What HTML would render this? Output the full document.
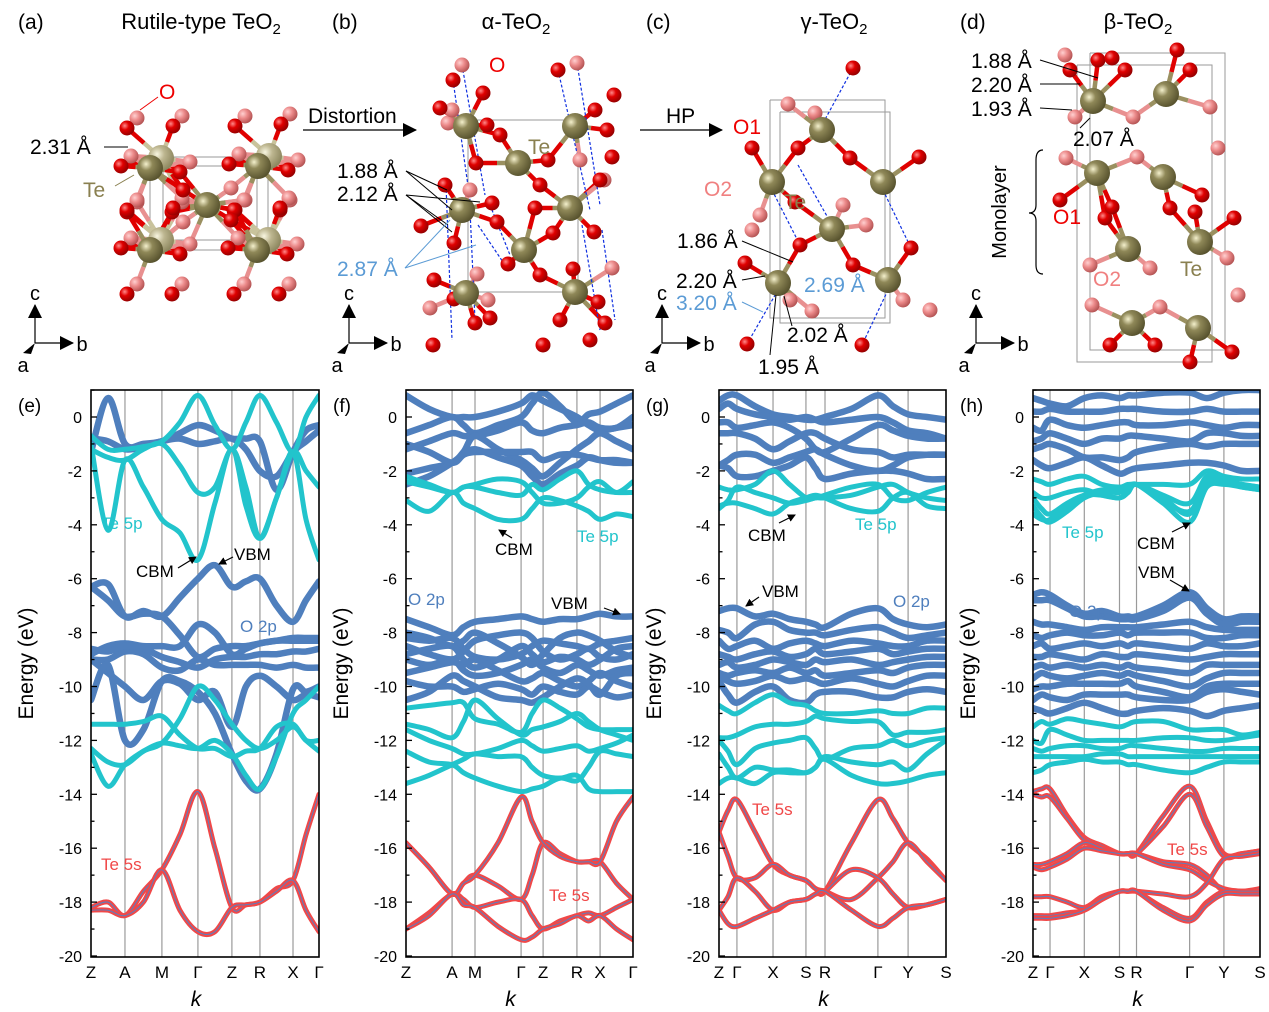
<!DOCTYPE html>
<html><head><meta charset="utf-8"><style>
html,body{margin:0;padding:0;background:#fff}
svg{display:block;font-family:"Liberation Sans",sans-serif}
</style></head><body>
<svg id="fig" width="1269" height="1012" viewBox="0 0 1269 1012" xmlns="http://www.w3.org/2000/svg">
<defs>
<radialGradient id="gTe" cx="0.35" cy="0.35" r="0.7"><stop offset="0" stop-color="#f4f0cc"/><stop offset="0.35" stop-color="#8f8858"/><stop offset="1" stop-color="#55502c"/></radialGradient>
<radialGradient id="gTeB" cx="0.35" cy="0.35" r="0.7"><stop offset="0" stop-color="#f8f6e0"/><stop offset="0.4" stop-color="#bdb690"/><stop offset="1" stop-color="#8a845c"/></radialGradient>
<radialGradient id="gO" cx="0.35" cy="0.35" r="0.7"><stop offset="0" stop-color="#ff8a8a"/><stop offset="0.4" stop-color="#e00000"/><stop offset="1" stop-color="#900000"/></radialGradient>
<radialGradient id="gP" cx="0.35" cy="0.35" r="0.7"><stop offset="0" stop-color="#ffd0d0"/><stop offset="0.45" stop-color="#ec8a8a"/><stop offset="1" stop-color="#b05050"/></radialGradient>
<marker id="ah" markerWidth="8" markerHeight="8" refX="7" refY="4" orient="auto" markerUnits="userSpaceOnUse"><path d="M0,0 L8,4 L0,8 z" fill="#000"/></marker>
<marker id="ahs" markerWidth="14" markerHeight="14" refX="13" refY="7" orient="auto" markerUnits="userSpaceOnUse"><path d="M0,0 L14,7 L0,14 z" fill="#000"/></marker>
</defs>
<g id="top"></g>
<g id="bands"></g>
</svg>
<script>
// ---------------- Band structure data ----------------
const eKLabels=["Z","A","M","Γ","Z","R","X","Γ"];
const eKDist=[0,0.149,0.311,0.469,0.618,0.741,0.886,1];
const eRed=[
[-18.2,-18.0,-18.5,-17.6,-16.8,-15.5,-13.9,-16.0,-18.2,-18.1,-18.0,-17.5,-17.2,-15.5,-14.0],
[-18.3,-18.3,-18.5,-18.0,-16.8,-18.3,-19.1,-19.1,-18.2,-18.1,-18.0,-17.6,-17.2,-18.3,-19.1]];
const eCyan=[
[-1.0,-4.2,-1.6,-2.6,-3.8,-4.3,-5.3,-3.2,-1.2,-3.3,-4.5,-3.0,-1.3,-3.8,-5.3],
[-0.7,-1.2,-1.2,-1.1,-0.9,-0.2,0.8,-0.3,-1.2,-0.2,0.8,-0.2,-1.3,0.0,0.8],
[-1.2,-1.5,-1.6,-1.2,-1.0,-1.8,-2.8,-2.6,-1.2,-2.6,-4.5,-3.0,-1.3,-2.0,-2.6],
[-11.4,-11.4,-11.4,-11.3,-11.1,-11.8,-12.3,-12.3,-12.6,-12.4,-12.3,-11.5,-11.4,-12.0,-12.0],
[-12.3,-12.8,-12.9,-12.4,-12.1,-12.2,-12.3,-12.0,-12.5,-13.3,-13.8,-12.6,-11.0,-10.5,-10.0],
[-12.5,-13.7,-12.9,-12.4,-12.1,-11.2,-10.0,-10.5,-11.4,-12.0,-12.3,-12.0,-11.5,-12.0,-12.4]];
const eBlue=[
[-1.3,0.7,-1.0,-1.0,-0.9,-0.6,-0.3,-0.5,-0.8,-0.8,-0.9,-2.7,-1.3,-0.5,-0.3],
[-0.8,-0.9,-1.2,-1.1,-0.9,-0.8,-1.0,-0.9,-0.8,-1.2,-2.0,-2.2,-1.3,-0.9,-0.5],
[-6.3,-6.2,-7.4,-7.2,-7.4,-6.7,-6.0,-5.5,-6.3,-6.1,-6.0,-7.0,-7.6,-6.8,-6.1],
[-6.3,-6.8,-7.4,-7.3,-7.4,-8.1,-8.9,-8.6,-8.5,-8.5,-8.4,-8.3,-8.3,-8.3,-8.3],
[-8.8,-8.5,-8.4,-8.5,-8.5,-8.5,-7.7,-8.0,-8.8,-8.6,-8.4,-8.3,-8.2,-8.2,-8.2],
[-9.0,-9.0,-8.7,-8.8,-9.3,-9.4,-9.0,-9.2,-9.2,-9.2,-9.2,-9.3,-9.2,-9.3,-9.3],
[-8.6,-8.7,-8.5,-8.6,-8.9,-9.1,-9.3,-9.0,-8.9,-8.9,-8.8,-8.8,-8.7,-8.7,-8.6],
[-9.0,-9.5,-10.0,-10.5,-9.8,-9.9,-10.5,-10.2,-11.5,-10.0,-9.6,-10.0,-10.5,-10.3,-10.4],
[-10.5,-9.2,-12.0,-11.6,-9.8,-9.8,-10.2,-11.0,-12.5,-13.5,-13.8,-12.5,-10.1,-10.2,-10.0]];

const fKLabels=["Z","A","M","Γ","Z","R","X","Γ"];
const fKDist=[0,0.203,0.304,0.507,0.604,0.753,0.855,1];
const fRed=[
[-15.8,-16.7,-17.7,-17.3,-17.0,-17.4,-17.9,-17.0,-15.8,-16.2,-16.5,-16.5,-16.5,-17.3,-17.9],
[-19.0,-18.4,-17.7,-17.9,-18.2,-18.0,-17.9,-18.5,-19.0,-18.7,-18.5,-18.4,-18.5,-18.2,-17.9],
[-15.8,-16.7,-17.7,-17.3,-17.0,-15.8,-14.1,-15.0,-15.8,-16.3,-16.5,-16.5,-16.5,-15.0,-14.1],
[-19.0,-18.5,-17.7,-18.1,-18.2,-18.9,-19.4,-19.3,-19.0,-18.8,-18.5,-18.7,-18.5,-19.0,-19.4]];
const fCyan=[
[-13.6,-13.3,-12.9,-12.7,-12.5,-12.6,-12.6,-13.0,-13.3,-13.4,-13.3,-13.8,-13.9,-13.9,-13.9],
[-12.4,-12.8,-12.9,-13.2,-13.4,-13.7,-13.9,-13.8,-13.7,-13.4,-13.5,-13.0,-12.4,-12.5,-12.6],
[-11.4,-11.6,-11.9,-11.3,-10.5,-11.2,-11.8,-11.6,-11.5,-11.3,-11.0,-11.3,-11.6,-11.8,-12.0],
[-11.6,-12.0,-12.3,-12.5,-12.5,-12.3,-12.0,-12.2,-12.4,-12.3,-12.2,-12.4,-12.3,-12.1,-11.8],
[-10.8,-10.7,-10.6,-10.6,-11.2,-11.4,-11.7,-11.0,-10.5,-10.8,-11.2,-11.5,-11.6,-11.6,-11.6],
[-2.2,-2.5,-2.8,-2.6,-2.6,-2.8,-2.9,-2.5,-2.7,-2.3,-2.0,-2.5,-2.7,-2.8,-2.8],
[-3.1,-3.5,-2.8,-3.2,-3.4,-3.8,-3.8,-3.4,-3.0,-3.1,-3.3,-3.5,-3.8,-3.6,-3.7],
[-2.4,-2.6,-2.8,-2.6,-2.5,-2.3,-2.4,-2.8,-3.2,-3.2,-3.0,-2.6,-2.4,-2.8,-2.4]];
const fBlue=[
[-7.5,-7.8,-8.1,-7.8,-7.6,-7.5,-7.4,-7.5,-7.6,-7.5,-7.5,-7.4,-7.3,-7.4,-7.4],
[-8.2,-8.3,-8.2,-8.6,-8.9,-9.0,-8.8,-8.5,-8.3,-8.4,-8.5,-8.6,-8.4,-8.3,-8.2],
[-8.5,-8.8,-9.0,-8.7,-8.3,-8.1,-8.0,-8.2,-8.7,-9.0,-8.8,-8.6,-8.9,-9.0,-8.8],
[-9.0,-9.2,-9.0,-9.4,-9.6,-9.5,-9.2,-9.0,-9.3,-9.5,-9.2,-9.4,-9.6,-9.4,-9.3],
[-9.5,-9.3,-9.1,-9.2,-9.0,-9.4,-9.8,-9.7,-9.5,-9.8,-10.0,-9.8,-9.5,-9.8,-10.0],
[-9.8,-10.0,-10.0,-10.2,-10.1,-9.9,-10.1,-10.3,-10.0,-10.2,-10.3,-10.0,-10.2,-10.4,-10.3],
[-10.5,-10.2,-9.6,-9.8,-10.0,-10.4,-10.5,-10.6,-10.4,-10.0,-9.7,-9.9,-10.3,-9.6,-9.5],
[-8.0,-8.2,-8.5,-8.3,-8.0,-8.4,-8.9,-9.2,-8.8,-8.2,-8.0,-8.1,-8.3,-8.7,-8.9],
[-8.8,-8.6,-8.5,-9.0,-9.3,-9.0,-8.5,-8.8,-9.1,-8.9,-9.0,-9.2,-9.0,-8.6,-8.5],
[-0.6,-0.3,0.0,-0.3,-0.6,-0.3,0.0,0.5,0.9,0.4,-0.2,0.1,0.2,0.5,0.8],
[0.8,0.3,0.0,0.0,0.0,0.2,0.5,0.8,0.6,0.3,0.0,-0.3,-0.5,-0.4,-0.3],
[-1.2,-0.9,-0.6,-0.7,-0.7,-0.5,-0.2,-0.5,-0.6,-0.4,-0.3,-0.2,-0.4,-0.4,0.0],
[-2.1,-1.9,-1.7,-1.3,-0.7,-1.2,-1.6,-1.9,-2.2,-1.7,-1.2,-0.9,-0.6,-0.9,-1.2],
[-2.5,-2.2,-1.7,-1.4,-1.3,-1.3,-1.3,-1.3,-1.6,-1.4,-1.4,-1.5,-1.6,-1.6,-1.7],
[-1.0,-1.3,-1.7,-1.4,-1.2,-1.5,-1.8,-2.2,-2.5,-2.1,-1.8,-1.5,-1.6,-1.7,-1.7]];

const gKLabels=["Z","Γ","X","S","R","Γ","Y","S"];
const gKDist=[0,0.079,0.238,0.383,0.467,0.700,0.833,1];
const gRed=[
[-15.4,-14.6,-14.2,-15.4,-16.6,-17.0,-17.2,-17.5,-17.6,-15.8,-14.2,-14.9,-15.8,-16.4,-17.2],
[-15.4,-16.3,-17.1,-17.1,-16.6,-17.0,-17.2,-17.5,-17.6,-17.9,-17.1,-16.5,-15.8,-16.5,-17.2],
[-18.3,-17.8,-17.1,-17.6,-18.3,-18.0,-17.9,-17.7,-17.6,-16.8,-17.1,-17.7,-18.2,-18.1,-17.9],
[-18.3,-18.8,-18.9,-18.6,-18.3,-18.0,-17.9,-17.7,-17.6,-18.3,-18.9,-18.6,-18.2,-18.1,-17.9]];
const gCyan=[
[-13.6,-13.4,-13.4,-13.6,-13.2,-13.2,-13.2,-13.0,-12.7,-13.3,-13.6,-13.6,-13.5,-13.3,-13.2],
[-12.5,-13.0,-13.4,-13.0,-13.1,-13.1,-13.2,-13.0,-12.6,-12.8,-12.9,-12.8,-13.1,-12.5,-12.0],
[-12.0,-12.4,-12.9,-12.3,-12.1,-12.0,-11.9,-12.3,-12.7,-12.3,-12.2,-12.0,-12.2,-12.0,-11.9],
[-11.9,-11.9,-11.8,-11.5,-11.4,-11.4,-11.3,-11.1,-11.2,-11.3,-11.3,-11.8,-11.7,-11.7,-11.6],
[-10.7,-10.9,-11.0,-10.6,-10.3,-10.6,-10.7,-10.9,-11.0,-11.0,-10.9,-11.0,-11.0,-10.8,-10.8],
[-3.4,-3.1,-2.6,-2.8,-3.0,-3.2,-3.1,-3.0,-3.0,-2.9,-2.6,-2.5,-2.8,-3.0,-3.1],
[-3.3,-3.2,-3.2,-3.4,-3.6,-3.2,-3.0,-2.9,-3.0,-3.4,-3.5,-3.0,-2.8,-3.3,-3.4],
[-2.6,-2.7,-2.7,-2.5,-2.0,-2.5,-3.0,-3.0,-2.9,-2.6,-2.5,-3.0,-3.1,-2.8,-2.6]];
const gBlue=[
[-9.8,-10.3,-10.6,-10.2,-10.0,-10.5,-10.6,-10.3,-10.2,-10.2,-10.4,-10.4,-10.2,-10.1,-10.2],
[-7.2,-7.1,-7.1,-7.4,-7.3,-7.5,-7.6,-7.7,-7.8,-7.3,-7.1,-7.5,-7.7,-7.8,-7.7],
[-7.9,-8.0,-8.2,-7.7,-7.6,-7.9,-8.0,-8.0,-8.1,-7.9,-7.8,-8.0,-8.2,-8.1,-8.0],
[-8.3,-8.6,-8.5,-8.3,-8.6,-8.4,-8.3,-8.4,-8.5,-8.3,-8.4,-8.5,-8.5,-8.3,-8.3],
[-8.8,-8.9,-9.0,-8.8,-8.7,-8.9,-8.8,-8.6,-8.8,-8.7,-8.6,-8.8,-8.7,-8.6,-8.6],
[-9.2,-9.1,-9.3,-9.2,-9.0,-9.1,-9.2,-9.0,-9.1,-9.0,-9.2,-9.1,-9.0,-8.9,-8.9],
[-9.5,-9.6,-9.5,-9.4,-9.5,-9.3,-9.5,-9.4,-9.6,-9.5,-9.4,-9.5,-9.3,-9.2,-9.2],
[-9.6,-9.8,-9.9,-9.8,-9.6,-9.8,-9.7,-9.8,-9.9,-9.7,-9.9,-10.0,-9.8,-9.6,-9.6],
[0.6,0.8,0.8,0.4,0.1,0.0,-0.1,-0.1,0.0,0.3,0.8,0.4,0.1,0.0,-0.1],
[0.3,0.5,0.3,0.1,0.0,-0.1,0.0,-0.1,-0.2,-0.1,0.0,-0.2,-0.5,-0.6,-0.8],
[-0.2,-0.2,-0.4,-0.3,-0.2,-0.4,-0.8,-1.2,-1.3,-0.8,-0.3,-0.5,-0.7,-0.8,-0.8],
[-0.6,-0.6,-0.6,-0.8,-1.2,-0.9,-0.6,-0.6,-0.8,-1.2,-1.3,-1.5,-1.4,-1.4,-1.4],
[-1.8,-1.6,-1.4,-1.4,-1.7,-1.5,-1.3,-1.2,-1.4,-1.8,-2.0,-1.8,-1.5,-1.4,-1.4],
[-1.8,-1.9,-2.2,-2.2,-2.0,-1.8,-1.5,-1.9,-2.3,-2.1,-2.0,-2.0,-2.1,-2.3,-2.3]];

const hKLabels=["Z","Γ","X","S","R","Γ","Y","S"];
const hKDist=[0,0.075,0.226,0.381,0.456,0.690,0.841,1];
const hRed=[
[-13.9,-13.8,-13.8,-14.8,-15.6,-15.9,-16.2,-16.2,-16.2,-14.8,-13.7,-15.0,-16.2,-16.2,-16.1],
[-14.0,-14.1,-14.1,-14.9,-15.7,-16.0,-16.2,-16.2,-16.2,-15.2,-14.0,-15.2,-16.3,-16.2,-16.1],
[-16.6,-16.6,-16.5,-16.2,-15.8,-16.0,-16.2,-16.2,-16.2,-16.5,-16.6,-17.0,-17.6,-17.6,-17.5],
[-16.7,-16.8,-16.7,-16.4,-16.0,-16.1,-16.2,-16.2,-16.2,-16.6,-16.8,-17.2,-17.5,-17.6,-17.6],
[-17.8,-17.8,-17.8,-18.0,-18.2,-17.8,-17.6,-17.6,-17.6,-17.7,-17.8,-17.3,-16.4,-16.3,-16.2],
[-18.5,-18.5,-18.5,-18.4,-18.3,-17.9,-17.6,-17.6,-17.6,-18.2,-18.6,-18.0,-17.6,-17.6,-17.6],
[-18.6,-18.6,-18.6,-18.5,-18.3,-17.9,-17.6,-17.6,-17.6,-18.3,-18.7,-18.1,-17.7,-17.7,-17.7]];
const hCyan=[
[-13.2,-13.1,-12.9,-12.8,-12.7,-12.8,-12.8,-12.9,-12.9,-13.1,-13.2,-13.0,-12.8,-12.8,-12.8],
[-12.6,-12.6,-12.6,-12.6,-12.6,-12.5,-12.5,-12.6,-12.6,-12.6,-12.6,-12.6,-12.6,-12.6,-12.6],
[-12.3,-12.4,-12.3,-12.2,-12.2,-12.3,-12.3,-12.2,-12.2,-12.3,-12.4,-12.4,-12.3,-12.3,-12.3],
[-12.0,-12.1,-11.6,-11.8,-12.0,-12.0,-12.0,-12.0,-12.0,-11.9,-11.9,-12.0,-12.0,-11.9,-11.8],
[-11.5,-11.3,-11.4,-11.2,-11.3,-11.4,-11.5,-11.4,-11.3,-11.3,-11.6,-11.6,-11.6,-11.8,-11.7],
[-2.3,-2.4,-2.5,-2.3,-2.2,-2.5,-2.6,-2.5,-2.5,-2.5,-2.5,-2.0,-2.2,-2.3,-2.3],
[-2.8,-3.0,-3.0,-2.8,-2.7,-2.9,-3.0,-2.8,-2.5,-2.9,-3.2,-2.2,-2.3,-2.5,-2.6],
[-3.0,-3.4,-3.6,-3.2,-2.9,-2.9,-3.0,-2.8,-2.5,-3.1,-3.5,-2.4,-2.4,-2.6,-2.7],
[-3.3,-3.7,-3.9,-3.5,-3.0,-2.8,-2.8,-2.7,-2.5,-3.2,-3.9,-2.6,-2.5,-2.6,-2.7],
[-3.6,-3.8,-3.8,-3.3,-2.9,-2.7,-2.7,-2.6,-2.5,-3.0,-3.6,-2.3,-2.4,-2.5,-2.6]];
const hBlue=[
[-10.8,-10.9,-11.0,-10.8,-10.6,-10.8,-11.0,-11.0,-10.9,-10.8,-10.9,-11.1,-10.9,-10.8,-10.7],
[-6.6,-6.5,-6.6,-7.0,-7.3,-7.2,-7.4,-7.4,-7.4,-7.0,-6.5,-7.1,-7.5,-7.4,-7.4],
[-6.8,-6.8,-6.8,-7.1,-7.4,-7.4,-7.5,-7.5,-7.5,-7.2,-6.7,-7.3,-7.7,-7.6,-7.6],
[-7.6,-7.7,-7.7,-7.8,-7.9,-7.8,-7.8,-7.8,-7.8,-7.7,-7.6,-7.8,-7.9,-7.9,-7.9],
[-8.1,-8.2,-8.1,-8.0,-8.1,-8.1,-8.0,-8.1,-8.0,-8.0,-8.0,-8.2,-8.2,-8.1,-8.1],
[-8.5,-8.4,-8.6,-8.5,-8.4,-8.5,-8.4,-8.5,-8.4,-8.5,-8.6,-8.4,-8.5,-8.5,-8.4],
[-8.9,-8.9,-8.8,-8.9,-9.0,-8.8,-8.9,-8.9,-8.8,-8.9,-9.0,-8.9,-8.8,-8.8,-8.8],
[-9.3,-9.2,-9.3,-9.2,-9.3,-9.2,-9.3,-9.2,-9.3,-9.4,-9.5,-9.2,-9.2,-9.2,-9.2],
[-9.7,-9.5,-9.6,-9.7,-9.6,-9.5,-9.6,-9.5,-9.6,-9.8,-10.0,-9.7,-9.5,-9.5,-9.5],
[-10.1,-10.0,-10.0,-9.9,-9.9,-9.9,-9.9,-9.8,-10.0,-10.2,-10.4,-10.0,-9.9,-9.9,-9.9],
[-10.5,-10.3,-10.4,-10.5,-10.3,-10.3,-10.3,-10.3,-10.4,-10.5,-10.5,-10.2,-10.1,-10.2,-10.3],
[0.7,0.6,0.5,0.4,0.7,0.8,0.7,0.8,0.8,0.9,0.9,0.7,0.9,1.0,1.0],
[0.2,0.2,0.3,0.2,0.2,0.2,0.3,0.3,0.3,0.2,0.2,0.3,0.2,0.2,0.2],
[-0.4,-0.5,-0.1,-0.3,-0.4,-0.3,-0.2,-0.2,-0.3,-0.3,-0.2,-0.3,-0.4,-0.3,-0.3],
[-0.9,-0.8,-0.6,-0.8,-1.0,-0.8,-0.8,-0.7,-0.7,-0.8,-0.9,-0.6,-0.6,-0.7,-0.7],
[-1.2,-1.1,-1.0,-1.2,-1.5,-1.5,-1.6,-1.5,-1.3,-1.1,-1.0,-1.1,-1.0,-1.0,-1.0],
[-1.6,-1.8,-1.9,-1.7,-1.5,-1.8,-2.1,-2.0,-1.9,-1.8,-1.7,-1.7,-1.8,-2.0,-2.0]];
const yTicks=[0,-2,-4,-6,-8,-10,-12,-14,-16,-18,-20];

const NS="http://www.w3.org/2000/svg";
function mk(tag,attrs,parent){const e=document.createElementNS(NS,tag);for(const k in attrs)e.setAttribute(k,attrs[k]);if(parent)parent.appendChild(e);return e;}
function txt(parent,x,y,s,size,fill,anchor,name,extra){const t=mk('text',Object.assign({x:x,y:y,'font-size':size,fill:fill||'#000','text-anchor':anchor||'start'},extra||{}),parent);t.textContent=s;


return t;}
function smooth(p){let d='M'+p[0][0].toFixed(1)+','+p[0][1].toFixed(1);for(let i=0;i<p.length-1;i++){const p0=p[i-1]||p[i],p1=p[i],p2=p[i+1],p3=p[i+2]||p2;const c1=[p1[0]+(p2[0]-p0[0])/6,p1[1]+(p2[1]-p0[1])/6],c2=[p2[0]-(p3[0]-p1[0])/6,p2[1]-(p3[1]-p1[1])/6];d+='C'+c1[0].toFixed(1)+','+c1[1].toFixed(1)+' '+c2[0].toFixed(1)+','+c2[1].toFixed(1)+' '+p2[0].toFixed(1)+','+p2[1].toFixed(1);}return d;}

const BT=390,BB=957;
function yScale(E){return 417-E*26.95;}
function panel(id,left,w,letter,kLabels,kDist,red,cyan,blue){
  const root=document.getElementById('bands');
  const g=mk('g',{},root);
  
  
  const xS=k=>left+k*w;
  const cp=mk('clipPath',{id:'clip'+id},g);mk('rect',{x:left,y:BT,width:w,height:BB-BT},cp);
  kDist.forEach((k,i)=>{if(i>0&&i<kDist.length-1){const l=mk('line',{x1:xS(k),x2:xS(k),y1:BT,y2:BB,stroke:'#9a9a9a','stroke-width':1.2},g);
  
  }});
  const samples=[];for(let i=0;i<kDist.length;i++){samples.push(kDist[i]);if(i<kDist.length-1)samples.push((kDist[i]+kDist[i+1])/2);}
  const cg=mk('g',{'clip-path':'url(#clip'+id+')'},g);
  function draw(arr,col,wd,inner,name){arr.forEach(b=>{const pts=b.map((E,i)=>[xS(samples[i]),yScale(E)]);const p=mk('path',{d:smooth(pts),fill:'none',stroke:col,'stroke-width':wd,'stroke-linecap':'round'},cg);
    
    
    if(inner){const q=mk('path',{d:smooth(pts),fill:'none',stroke:inner,'stroke-width':1},cg);
    
    }});}
  draw(blue,'#4f7fbd',6.5,null,'o2p-band');
  draw(cyan,'#22c4cc',5,null,'te5p-band');
  draw(red,'#f04848',5,'#5a7fc0','te5s-band');
  const box=mk('rect',{x:left,y:BT,width:w,height:BB-BT,fill:'none',stroke:'#000','stroke-width':1.6},g);
  
  
  for(let E=1;E>=-20;E--){const y=yScale(E);const maj=(E%2===0);mk('line',{x1:left,x2:left+(maj?6:3.5),y1:y,y2:y,stroke:'#000','stroke-width':1.3},g);}
  yTicks.forEach(E=>{txt(g,left-9,yScale(E)+6,String(E),16,'#000','end','y-tick-label');});
  kLabels.forEach((s,i)=>{txt(g,xS(kDist[i]),978,s,17,'#000','middle','k-point-label');});
  txt(g,left+w/2-9,1006,'k',21,'#000','middle','x-axis-title',{'font-style':'italic'});
  txt(g,left-58,BT+(BB-BT)/2-10,'Energy (eV)',21,'#000','middle','y-axis-title',{transform:'rotate(-90 '+(left-58)+' '+(BT+(BB-BT)/2-10)+')'});
  txt(g,left-73,412,'('+letter+')',19,'#000','start','panel-label');
  return g;
}
const gE=panel('e',91,228,'e',eKLabels,eKDist,eRed,eCyan,eBlue);
const gF=panel('f',406,227,'f',fKLabels,fKDist,fRed,fCyan,fBlue);
const gG=panel('g',719,227,'g',gKLabels,gKDist,gRed,gCyan,gBlue);
const gH=panel('h',1033,227,'h',hKLabels,hKDist,hRed,hCyan,hBlue);
function arrow(g,x1,y1,x2,y2,name){const l=mk('line',{x1,y1,x2,y2,stroke:'#000','stroke-width':1.2,'marker-end':'url(#ah)'},g);

}
const C='#22c4cc',B='#4f7fbd',R='#f04848';
txt(gE,101,529,'Te 5p',17,C,'start','te5p-label');txt(gE,136,577,'CBM',17,'#000','start','cbm-label');arrow(gE,178,568,196,557,'cbm-arrow');
txt(gE,234,560,'VBM',17,'#000','start','vbm-label');arrow(gE,233,557,219,564,'vbm-arrow');
txt(gE,240,632,'O 2p',17,B,'start','o2p-label');txt(gE,101,870,'Te 5s',17,R,'start','te5s-label');
txt(gF,495,555,'CBM',17,'#000','start','cbm-label');arrow(gF,512,538,499,530,'cbm-arrow');
txt(gF,577,542,'Te 5p',17,C,'start','te5p-label');txt(gF,408,605,'O 2p',17,B,'start','o2p-label');
txt(gF,551,609,'VBM',17,'#000','start','vbm-label');arrow(gF,604,608,620,614,'vbm-arrow');txt(gF,549,901,'Te 5s',17,R,'start','te5s-label');
txt(gG,748,541,'CBM',17,'#000','start','cbm-label');arrow(gG,779,523,795,515,'cbm-arrow');
txt(gG,855,530,'Te 5p',17,C,'start','te5p-label');txt(gG,762,597,'VBM',17,'#000','start','vbm-label');arrow(gG,759,597,746,606,'vbm-arrow');
txt(gG,893,607,'O 2p',17,B,'start','o2p-label');txt(gG,752,815,'Te 5s',17,R,'start','te5s-label');
txt(gH,1062,538,'Te 5p',17,C,'start','te5p-label');txt(gH,1137,549,'CBM',17,'#000','start','cbm-label');arrow(gH,1172,532,1190,523,'cbm-arrow');
txt(gH,1069,617,'O 2p',17,B,'start','o2p-label');txt(gH,1138,578,'VBM',17,'#000','start','vbm-label');arrow(gH,1170,580,1189,591,'vbm-arrow');
txt(gH,1167,855,'Te 5s',17,R,'start','te5s-label');

// ---------------- Crystal structures ----------------
const topG=document.getElementById('top');
function structure(name,atoms,dashes,boxes){
  const g=mk('g',{},topG);
  
  
  boxes.forEach(b=>{mk('polyline',{points:b,fill:'none',stroke:'#9a9a9a','stroke-width':1},g);});
  const te=atoms.filter(a=>a[2]==='T'||a[2]==='t'),ox=atoms.filter(a=>a[2]==='O'||a[2]==='P');
  te.forEach(t=>{ox.forEach(o=>{const d=Math.hypot(t[0]-o[0],t[1]-o[1]);if(d<46){const mx=(t[0]+o[0])/2,my=(t[1]+o[1])/2;
    mk('line',{x1:t[0],y1:t[1],x2:mx,y2:my,stroke:t[2]==='t'?'#c9c39c':'#9a9060','stroke-width':4.5},g);
    mk('line',{x1:mx,y1:my,x2:o[0],y2:o[1],stroke:o[2]==='P'?'#e89090':'#e00000','stroke-width':4.5},g);}});});
  dashes.forEach(d=>{mk('line',{x1:d[0],y1:d[1],x2:d[2],y2:d[3],stroke:'#1030e0','stroke-width':1.2,'stroke-dasharray':'3,2'},g);});
  const order=atoms.slice().sort((a,b)=>({t:0,P:1,O:2,T:3}[a[2]])-({t:0,P:1,O:2,T:3}[b[2]]));
  order.forEach(a=>{const r=(a[2]==='T'||a[2]==='t')?13:7.5;const f={T:'url(#gTe)',t:'url(#gTeB)',O:'url(#gO)',P:'url(#gP)'}[a[2]];
    const c=mk('circle',{cx:a[0],cy:a[1],r:r,fill:f},g);
    
    });
  return g;
}
// (a) rutile
const atA=[];
[[150,168],[258,166],[150,250],[257,250]].forEach(([x,y])=>{atA.push([x+11,y-10,'t']);
  [[-23,-40],[23,-42],[-29,-2],[30,4],[-23,44],[22,44]].forEach(([dx,dy])=>atA.push([x+dx,y+dy,'O']));
  [[-13,-50],[32,-52],[-19,-12],[40,-6],[-13,34],[32,34]].forEach(([dx,dy])=>atA.push([x+dx,y+dy,'P']));
  atA.push([x,y,'T']);});
atA.push([207,205,'T'],[183,190,'O'],[231,220,'O'],[183,222,'P'],[231,188,'P']);
structure('rutile-structure',atA,[],['163,157 268,157 268,240 163,240 163,157','150,166 257,166 257,250 150,250 150,166']);
// (b) alpha
const atB=[[453,80,'O'],[483,93,'O'],[462,65,'P'],[440,108,'O'],[487,125,'O'],[500,135,'O'],[476,163,'O'],[445,185,'O'],[492,203,'O'],[421,226,'O'],[454,243,'O'],[497,222,'O'],[540,185,'O'],[548,160,'O'],[607,130,'O'],[595,110,'O'],[558,70,'O'],[577,63,'P'],[614,95,'O'],[612,157,'O'],[600,180,'O'],[535,208,'O'],[594,232,'O'],[553,233,'O'],[573,269,'O'],[540,275,'O'],[434,280,'O'],[454,299,'O'],[475,323,'O'],[433,345,'O'],[508,264,'O'],[598,302,'O'],[605,323,'O'],[590,340,'O'],[543,345,'O'],[490,318,'O'],[560,320,'O'],[448,123,'P'],[470,190,'P'],[604,180,'P'],[430,308,'P'],[488,300,'P'],[612,268,'P'],[580,160,'P'],[477,274,'P'],[452,110,'P'],
[466,126,'T'],[575,126,'T'],[518,163,'T'],[462,210,'T'],[570,208,'T'],[524,250,'T'],[466,293,'T'],[575,292,'T']];
structure('alpha-structure',atB,[[453,80,470,200],[462,65,485,195],[558,70,590,210],[577,63,600,205],[446,185,452,340],[470,210,475,320],[478,225,505,265],[582,225,600,330],[602,230,615,320],[490,205,510,255]],['468,120 578,120 578,292 468,292 468,120']);
// (c) gamma
const atC=[[853,68,'O'],[752,148,'O'],[798,148,'O'],[850,158,'O'],[795,202,'O'],[919,157,'O'],[800,245,'O'],[911,248,'O'],[745,263,'O'],[853,265,'O'],[747,344,'O'],[862,345,'O'],[788,104,'P'],[815,113,'P'],[752,230,'P'],[760,215,'P'],[843,205,'P'],[866,225,'P'],[790,300,'P'],[812,311,'P'],[903,300,'P'],[930,310,'P'],
[822,130,'T'],[772,182,'T'],[883,182,'T'],[832,229,'T'],[778,283,'T'],[888,280,'T']];
structure('gamma-structure',atC,[[853,68,822,125],[798,165,832,225],[772,190,800,245],[883,190,911,248],[778,290,747,344],[888,290,862,345]],['770,100 885,100 885,318 770,318 770,100','780,112 890,112 890,323 780,323 780,112']);
// (d) beta
const atD=[[1070,70,'O'],[1098,60,'O'],[1112,58,'O'],[1177,50,'O'],[1125,70,'O'],[1190,70,'O'],[1060,200,'O'],[1105,218,'O'],[1112,207,'O'],[1170,208,'O'],[1195,212,'O'],[1234,218,'O'],[1202,195,'O'],[1110,345,'O'],[1155,345,'O'],[1190,362,'O'],[1232,352,'O'],[1065,55,'P'],[1075,117,'P'],[1133,117,'P'],[1210,107,'P'],[1066,158,'P'],[1137,157,'P'],[1218,148,'P'],[1090,265,'P'],[1150,268,'P'],[1227,258,'P'],[1092,305,'P'],[1160,307,'P'],[1238,295,'P'],
[1093,101,'T'],[1166,94,'T'],[1097,173,'T'],[1163,177,'T'],[1128,249,'T'],[1200,242,'T'],[1132,323,'T'],[1198,328,'T']];
structure('beta-structure',atD,[],['1077,65 1212,65 1212,362 1077,362 1077,65','1090,53 1225,53 1225,350 1090,350 1090,53']);

// labels top row
const LS=21;
const lbl=(x,y,s,c,a,n)=>txt(topG,x,y,s,LS,c||'#000',a||'start',n);
lbl(18,29,'(a)','#000','start','panel-label');lbl(332,29,'(b)','#000','start','panel-label');lbl(646,29,'(c)','#000','start','panel-label');lbl(960,29,'(d)','#000','start','panel-label');
function title(x,base,name){const t=txt(topG,x,29,base,22,'#000','middle',name);const s=mk('tspan',{'font-size':15,dy:5},t);s.textContent='2';}
title(201,'Rutile-type TeO','title-rutile');title(516,'α-TeO','title-alpha');title(834,'γ-TeO','title-gamma');title(1138,'β-TeO','title-beta');
const OL='#8a8050',BL='#5b9bd5',PK='#f08080',RD='#ee0000';
lbl(159,99,'O',RD,'start','o-label');mk('line',{x1:158,y1:97,x2:140,y2:110,stroke:RD},topG);
lbl(30,154,'2.31 Å','#000','start','bond-length');mk('line',{x1:104,y1:147,x2:128,y2:147,stroke:'#000'},topG);
lbl(83,197,'Te',OL,'start','te-label');mk('line',{x1:115,y1:186,x2:134,y2:175,stroke:OL},topG);
lbl(308,123,'Distortion','#000','start','distortion-label');mk('line',{x1:303,y1:130,x2:416,y2:130,stroke:'#000','stroke-width':1.2,'marker-end':'url(#ahs)'},topG);
lbl(489,72,'O',RD,'start','o-label');lbl(528,154,'Te',OL,'start','te-label');
lbl(337,178,'1.88 Å','#000','start','bond-length');lbl(337,201,'2.12 Å','#000','start','bond-length');lbl(337,276,'2.87 Å',BL,'start','bond-length');
[[406,171,447,190],[406,171,452,210],[406,195,480,202],[406,195,448,225],[406,195,452,232]].forEach(l=>mk('line',{x1:l[0],y1:l[1],x2:l[2],y2:l[3],stroke:'#000'},topG));
[[405,268,450,220],[405,268,476,245]].forEach(l=>mk('line',{x1:l[0],y1:l[1],x2:l[2],y2:l[3],stroke:BL},topG));
lbl(666,123,'HP','#000','start','hp-label');mk('line',{x1:640,y1:130,x2:722,y2:130,stroke:'#000','stroke-width':1.2,'marker-end':'url(#ahs)'},topG);
lbl(733,134,'O1',RD,'start','o1-label');lbl(704,196,'O2',PK,'start','o2-label');lbl(784,209,'Te',OL,'start','te-label');
lbl(677,248,'1.86 Å','#000','start','bond-length');lbl(676,288,'2.20 Å','#000','start','bond-length');lbl(676,310,'3.20 Å',BL,'start','bond-length');
lbl(804,292,'2.69 Å',BL,'start','bond-length');lbl(787,342,'2.02 Å','#000','start','bond-length');lbl(758,374,'1.95 Å','#000','start','bond-length');
[[742,241,793,262],[742,280,765,276],[770,355,776,295],[792,326,784,296]].forEach(l=>mk('line',{x1:l[0],y1:l[1],x2:l[2],y2:l[3],stroke:'#000'},topG));
mk('line',{x1:742,y1:302,x2:763,y2:312,stroke:BL},topG);
lbl(971,68,'1.88 Å','#000','start','bond-length');lbl(971,92,'2.20 Å','#000','start','bond-length');lbl(971,116,'1.93 Å','#000','start','bond-length');lbl(1073,146,'2.07 Å','#000','start','bond-length');
[[1040,60,1098,78],[1040,84,1080,84],[1040,108,1072,110],[1080,128,1090,118]].forEach(l=>mk('line',{x1:l[0],y1:l[1],x2:l[2],y2:l[3],stroke:'#000'},topG));
txt(topG,1006,212,'Monolayer',20,'#000','middle','monolayer-label',{transform:'rotate(-90 1006 212)'});
mk('path',{d:'M1043,150 Q1036,150 1036,160 L1036,205 Q1036,213 1029,213 Q1036,213 1036,221 L1036,265 Q1036,274 1043,274',fill:'none',stroke:'#000','stroke-width':1.2},topG);
lbl(1053,224,'O1',RD,'start','o1-label');lbl(1093,286,'O2',PK,'start','o2-label');lbl(1180,276,'Te',OL,'start','te-label');
// axis triads
[35,349,662,976].forEach(x0=>{const y0=343;const g=mk('g',{},topG);
  
  
  mk('line',{x1:x0,y1:y0,x2:x0,y2:305,stroke:'#000','stroke-width':1.2,'marker-end':'url(#ahs)'},g);
  mk('line',{x1:x0,y1:y0,x2:x0+38,y2:y0,stroke:'#000','stroke-width':1.2,'marker-end':'url(#ahs)'},g);
  mk('path',{d:`M${x0},${y0} L${x0-12},${y0+10} L${x0-4},${y0+11} z`,fill:'#000'},g);
  txt(g,x0,300,'c',20,'#000','middle','c-axis-label');txt(g,x0+47,351,'b',20,'#000','middle','b-axis-label');txt(g,x0-12,372,'a',20,'#000','middle','a-axis-label');});
</script>
</body></html>
